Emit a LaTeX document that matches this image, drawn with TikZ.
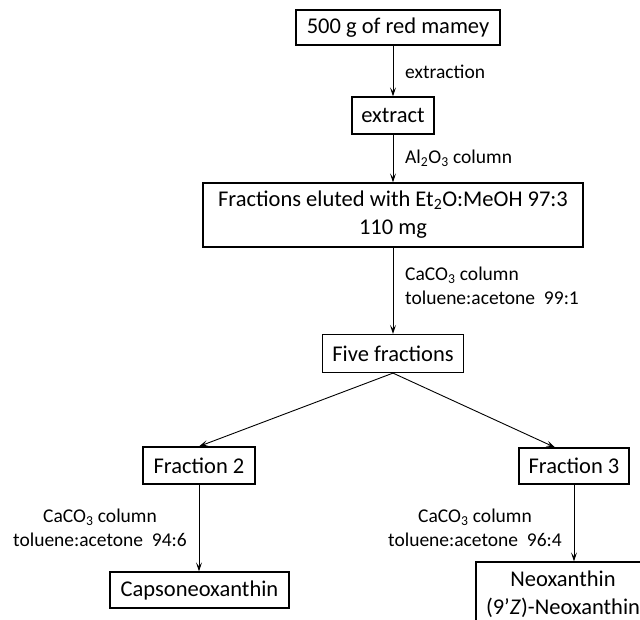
\documentclass[tikz,border=0pt]{standalone}
\usepackage{fontspec}
\setmainfont{Carlito}
\usetikzlibrary{arrows.meta}
\begin{document}
\begin{tikzpicture}[x=1pt,y=-1pt,
  box/.style={draw,line width=1.2pt,inner sep=0pt,align=center,font=\fontsize{22.5}{28}\selectfont},
  lab/.style={inner sep=0pt,align=left,font=\fontsize{19.5}{24}\selectfont},
  clab/.style={inner sep=0pt,align=center,font=\fontsize{19.5}{24}\selectfont},
  arr/.style={line width=0.9pt,-{Stealth[length=9pt,width=6pt,inset=4pt]}}]
\useasboundingbox (0,0) rectangle (640,620);
\node[box,minimum width=204pt,minimum height=35pt] (b1) at (398,27.5) {500 g of red mamey};
\node[box,minimum width=82pt,minimum height=37pt] (b2) at (393,115.5) {extract};
\node[box,minimum width=380pt,minimum height=64pt] (b3) at (393,215) {Fractions eluted with Et\textsubscript{2}O:MeOH 97:3\\110 mg};
\node[box,minimum width=141pt,minimum height=38pt] (b4) at (393,353.5) {Five fractions};
\node[box,minimum width=112pt,minimum height=37pt] (f2) at (199,465.5) {Fraction 2};
\node[box,minimum width=110pt,minimum height=36pt] (f3) at (574,466) {Fraction 3};
\node[box,minimum width=179pt,minimum height=36pt] (caps) at (199.5,590) {Capsoneoxanthin};
\node[box,minimum width=174pt,minimum height=64pt] (neo) at (563,594) {Neoxanthin\\(9’\textit{Z})-Neoxanthin};
\draw[arr] (b2.north |- b1.south) -- (b2.north);
\draw[arr] (b2.south) -- (b3.north);
\draw[arr] (b3.south) -- (b4.north);
\draw[arr] (b4.south) -- (f2.north);
\draw[arr] (b4.south) -- (f3.north -| 555,0);
\draw[arr] (f2.south) -- (f2.south |- caps.north);
\draw[arr] (f3.south) -- (f3.south |- neo.north);
\node[lab,anchor=west] (l1) at (405,72) {extraction};
\node[lab,anchor=west] (l2) at (405,158) {Al\textsubscript{2}O\textsubscript{3} column};
\node[lab,anchor=west] (l3) at (405,286) {CaCO\textsubscript{3} column\\toluene:acetone\ \ 99:1};
\node[clab] (l4) at (100,528) {CaCO\textsubscript{3} column\\toluene:acetone\ \ 94:6};
\node[clab] (l5) at (475,528) {CaCO\textsubscript{3} column\\toluene:acetone\ \ 96:4};
\end{tikzpicture}
\end{document}
